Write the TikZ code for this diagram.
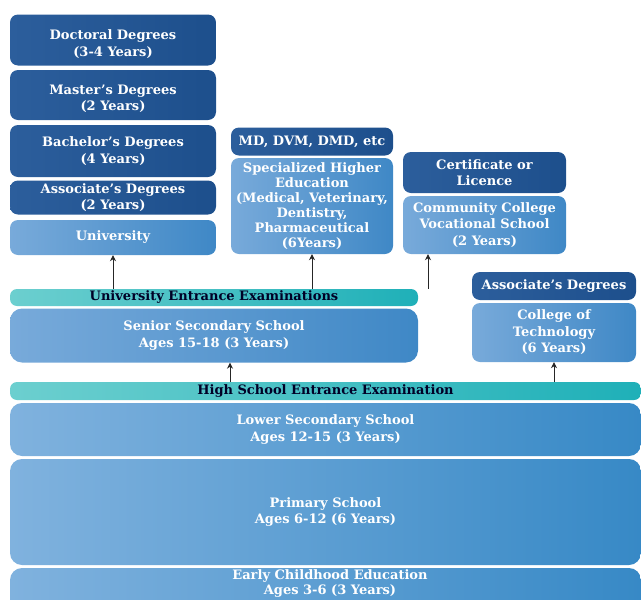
\documentclass[tikz,border=0pt]{standalone}
\usepackage{fontspec}
\setmainfont{DejaVu Serif}
\usetikzlibrary{arrows.meta}
\definecolor{dkL}{HTML}{2C5E9C}
\definecolor{dkR}{HTML}{1D4F8C}
\definecolor{ltL}{HTML}{78AADA}
\definecolor{ltR}{HTML}{3F88C6}
\definecolor{bgL}{HTML}{80B2DE}
\definecolor{bgR}{HTML}{3789C6}
\definecolor{tlL}{HTML}{6CCFCF}
\definecolor{tlR}{HTML}{1FB0B8}
\tikzset{
  base/.style={rounded corners=8pt, text=white, font=\bfseries\fontsize{13}{16.5}\selectfont, align=center, inner sep=1pt},
  dark/.style={base, left color=dkL, right color=dkR, draw=none},
  light/.style={base, left color=ltL, right color=ltR, draw=none},
  band/.style={base, left color=bgL, right color=bgR, draw=none, rounded corners=12pt},
  bar/.style={base, rounded corners=7pt, left color=tlL, right color=tlR, text=black!85!blue, font=\bfseries\fontsize{13}{14}\selectfont},
  arr/.style={-{Stealth[length=6pt,width=6pt]}, line width=0.9pt, black!85},
}
\begin{document}
\begin{tikzpicture}[x=1pt,y=-1pt]
\useasboundingbox (0,0) rectangle (641,600);
\clip (0,0) rectangle (641,600);
% left column
\node[dark, minimum width=206pt, minimum height=51pt] (doc) at (113,40) {};
\node[base] (doct) at (113,44) {Doctoral Degrees\\(3-4 Years)};
\node[dark, minimum width=206pt, minimum height=50pt] (mas) at (113,95) {};
\node[base] (mast) at (113,99) {Master's Degrees\\(2 Years)};
\node[dark, minimum width=206pt, minimum height=52pt] (bac) at (113,151) {Bachelor's Degrees\\(4 Years)};
\node[dark, minimum width=206pt, minimum height=34pt] (asc) at (113,197.5) {Associate's Degrees\\(2 Years)};
\node[light, minimum width=206pt, minimum height=35pt] (uni) at (113,237.5) {University};
% middle column
\node[dark, minimum width=162pt, minimum height=28pt] (md) at (312,141.5) {MD, DVM, DMD, etc};
\node[light, minimum width=162pt, minimum height=96pt, font=\bfseries\fontsize{13}{15}\selectfont] (spe) at (312,206) {Specialized Higher\\Education\\(Medical, Veterinary,\\Dentistry,\\Pharmaceutical\\(6Years)};
% right column
\node[dark, minimum width=163pt, minimum height=41pt] (cer) at (484.5,172.5) {Certificate or\\Licence};
\node[light, minimum width=163pt, minimum height=58pt] (com) at (484.5,225) {Community College\\Vocational School\\(2 Years)};
% university entrance bar
\node[bar, minimum width=408pt, minimum height=17pt] (uee) at (214,297.5) {University Entrance Examinations};
\node[light, minimum width=408pt, minimum height=54pt, rounded corners=12pt] (sen) at (214,335.5) {Senior Secondary School\\Ages 15-18 (3 Years)};
% technology
\node[dark, minimum width=164pt, minimum height=28pt] (asr) at (554,286) {Associate's Degrees};
\node[light, minimum width=164pt, minimum height=59pt] (tec) at (554,332.5) {College of\\Technology\\(6 Years)};
% high school bar
\node[bar, minimum width=631pt, minimum height=18pt] (hse) at (325.5,391) {High School Entrance Examination};
\node[band, minimum width=631pt, minimum height=53pt] (low) at (325.5,429.5) {Lower Secondary School\\Ages 12-15 (3 Years)};
\node[band, minimum width=631pt, minimum height=106pt] (pri) at (325.5,512) {Primary School\\Ages 6-12 (6 Years)};
\node[band, minimum width=631pt, minimum height=60pt] (ear) at (325.5,598) {};
\node[base, font=\bfseries\fontsize{13}{15}\selectfont] (eart) at (330,584) {Early Childhood Education\\Ages 3-6 (3 Years)};
% arrows
\coordinate (ca) at (428,0);
\draw[arr] (uee.north -| uni.south) -- (uni.south);
\draw[arr] (uee.north -| spe.south) -- (spe.south);
\draw[arr] (uee.north -| ca) -- (com.south -| ca);
\coordinate (cb) at (230,0);
\draw[arr] (hse.north -| cb) -- (sen.south -| cb);
\draw[arr] (hse.north -| tec.south) -- (tec.south);
\end{tikzpicture}
\end{document}
